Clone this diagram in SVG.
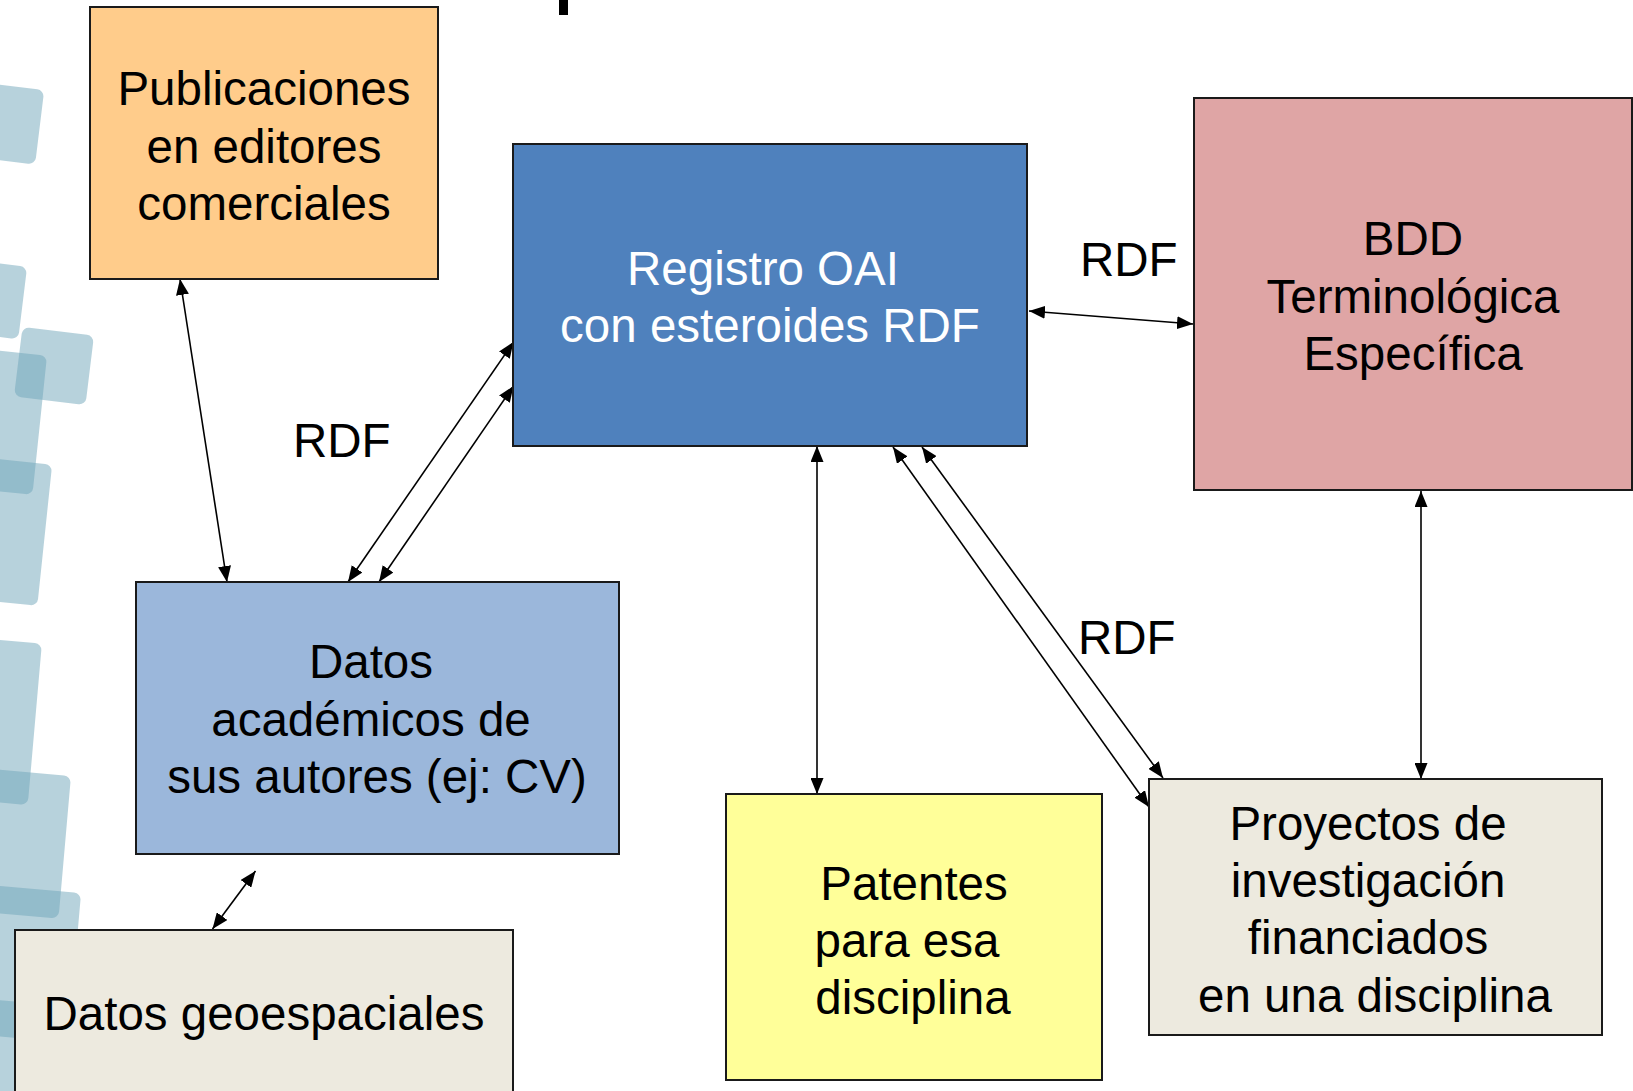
<svg xmlns="http://www.w3.org/2000/svg" width="1633" height="1091" viewBox="0 0 1633 1091">
<style>
.box{stroke:#1a1a1a;stroke-width:2}
.t{font-family:"Liberation Sans",Arial,sans-serif;font-size:47.5px;fill:#000;text-anchor:middle}
.w{fill:#fff}
.lbl{font-family:"Liberation Sans",Arial,sans-serif;font-size:47.5px;fill:#000}
.c{stroke:#000;stroke-width:1.6;fill:none;marker-start:url(#ah);marker-end:url(#ah)}
.sq{fill:#6fa6b9;opacity:0.5}
</style>
<defs>
<marker id="ah" viewBox="0 0 16 13" markerWidth="16" markerHeight="13" refX="16" refY="6.5" orient="auto-start-reverse" markerUnits="userSpaceOnUse">
<path d="M0,0 L16,6.5 L0,13 z" fill="#000"/>
</marker>
</defs>
<rect width="1633" height="1091" fill="#fff"/>
<g id="background">
<rect class="sq" x="-40" y="85" width="80" height="75" rx="7" transform="rotate(7 0 122)"/>
<rect class="sq" x="-52" y="262" width="75" height="73" rx="7" transform="rotate(7 -15 298)"/>
<rect class="sq" x="-60" y="350" width="100" height="140" rx="7" transform="rotate(6 -10 420)"/>
<rect class="sq" x="18" y="331" width="72" height="70" rx="7" transform="rotate(7 54 366)"/>
<rect class="sq" x="-55" y="459" width="100" height="142" rx="7" transform="rotate(6 -5 530)"/>
<rect class="sq" x="-65" y="639" width="100" height="162" rx="7" transform="rotate(5 -15 720)"/>
<rect class="sq" x="-45" y="771" width="110" height="143" rx="7" transform="rotate(5 10 842)"/>
<rect class="sq" x="-35" y="888" width="110" height="150" rx="7" transform="rotate(5 20 960)"/>
<rect class="sq" x="-50" y="1000" width="90" height="120" rx="7" transform="rotate(5 -5 1060)"/>
<rect x="559" y="0" width="9" height="15" fill="#000"/>
</g>
<g id="connectors">
<line class="c" x1="180" y1="279" x2="227" y2="582"/>
<line class="c" x1="348" y1="582" x2="513.5" y2="342"/>
<line class="c" x1="379" y1="582" x2="513.5" y2="386"/>
<line class="c" x1="1029" y1="311" x2="1193" y2="324"/>
<line class="c" x1="817" y1="446" x2="817" y2="794"/>
<line class="c" x1="893" y1="447" x2="1149" y2="807"/>
<line class="c" x1="922" y1="447" x2="1163" y2="778"/>
<line class="c" x1="1421" y1="491" x2="1421" y2="779"/>
<line class="c" x1="255.5" y1="871" x2="212.5" y2="929"/>
<text class="lbl" x="293" y="457">RDF</text>
<text class="lbl" x="1080" y="276">RDF</text>
<text class="lbl" x="1078" y="654">RDF</text>
</g>
<g id="publicaciones">
<rect class="box" x="90" y="7" width="348" height="272" fill="#FFCC8B"/>
<text class="t" x="264" y="105">Publicaciones</text>
<text class="t" x="264" y="162.5">en editores</text>
<text class="t" x="264" y="220">comerciales</text>
</g>
<g id="registro">
<rect class="box" x="513" y="144" width="514" height="302" fill="#4F81BD"/>
<text class="t w" x="763" y="285">Registro OAI</text>
<text class="t w" x="770" y="342">con esteroides RDF</text>
</g>
<g id="bdd">
<rect class="box" x="1194" y="98" width="438" height="392" fill="#DFA5A5"/>
<text class="t" x="1413" y="255">BDD</text>
<text class="t" x="1413" y="313">Terminológica</text>
<text class="t" x="1413" y="370">Específica</text>
</g>
<g id="datos-academicos">
<rect class="box" x="136" y="582" width="483" height="272" fill="#9BB7DB"/>
<text class="t" x="371" y="678">Datos</text>
<text class="t" x="371" y="736">académicos de</text>
<text class="t" x="377" y="793">sus autores (ej: CV)</text>
</g>
<g id="datos-geoespaciales">
<rect class="box" x="15" y="930" width="498" height="180" fill="#EDEADF"/>
<text class="t" x="264" y="1030">Datos geoespaciales</text>
</g>
<g id="patentes">
<rect class="box" x="726" y="794" width="376" height="286" fill="#FFFF99"/>
<text class="t" x="914" y="900">Patentes</text>
<text class="t" x="907" y="957">para esa</text>
<text class="t" x="913" y="1014">disciplina</text>
</g>
<g id="proyectos">
<rect class="box" x="1149" y="779" width="453" height="256" fill="#EDEADF"/>
<text class="t" x="1368" y="840">Proyectos de</text>
<text class="t" x="1368" y="897">investigación</text>
<text class="t" x="1368" y="954">financiados</text>
<text class="t" x="1375" y="1012">en una disciplina</text>
</g>
</svg>
